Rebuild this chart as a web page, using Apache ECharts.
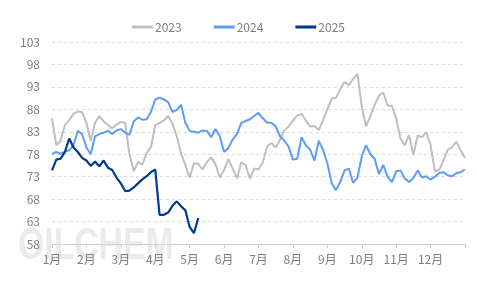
<!DOCTYPE html>
<html>
<head>
<meta charset="utf-8">
<script src="https://cdn.jsdelivr.net/npm/echarts@6/dist/echarts.min.js"></script>
<style>html,body{margin:0;padding:0;background:#fff;}#c{width:477px;height:284px;}</style>
</head>
<body>
<div id="c"></div>
<script>
const months = ['1月','2月','3月','4月','5月','6月','7月','8月','9月','10月','11月','12月'];
const seriesNames = ['2023','2024','2025'];
const stepPerMonth = 8;
const v2023 = [86.0,80.0,81.0,84.5,85.6,87.0,87.5,87.4,85.0,80.9,85.0,86.5,85.3,84.5,83.8,84.6,85.2,85.0,78.0,74.2,76.3,75.7,78.3,79.6,84.5,85.0,85.5,86.5,84.8,82.0,78.2,75.5,72.8,76.0,75.8,74.6,76.2,77.3,75.8,72.8,74.5,76.9,74.8,72.6,76.2,75.6,72.5,74.8,74.6,76.2,79.7,80.5,79.5,81.2,83.3,84.2,85.5,86.6,87.0,85.5,84.2,84.3,83.4,85.6,88.0,90.4,90.5,92.5,94.1,93.4,94.8,95.9,88.6,84.2,86.5,89.0,91.0,91.8,88.8,88.8,86.0,81.5,80.0,82.3,77.8,82.1,81.8,82.9,80.0,74.2,74.5,76.6,79.0,79.6,80.8,78.9,77.2];
const v2024 = [78.0,78.5,78.1,78.6,78.9,80.0,83.2,82.5,79.5,78.0,82.0,82.5,82.8,83.2,82.5,83.3,83.6,82.8,82.3,85.3,86.2,85.7,85.8,87.4,90.2,90.6,90.2,89.6,87.4,87.9,89.0,85.0,83.2,83.0,82.8,83.3,83.2,81.8,83.6,82.0,78.5,79.4,81.3,82.5,85.0,85.4,85.8,86.5,87.2,86.0,85.0,85.0,84.2,82.0,81.0,79.7,76.8,77.0,81.8,80.0,79.0,76.6,81.0,79.0,76.0,71.6,70.0,71.8,74.4,74.8,71.6,72.8,77.5,80.0,78.0,77.0,73.6,75.6,73.0,71.8,74.2,74.4,72.6,71.8,72.7,74.4,72.8,73.1,72.3,73.0,73.8,74.0,73.3,73.1,73.8,74.0,74.6];
const v2025 = [74.4,76.8,77.0,78.5,81.5,79.5,78.5,77.2,76.6,75.4,76.4,75.3,76.6,75.0,74.5,72.8,71.5,69.8,69.9,70.6,71.5,72.4,73.1,74.0,74.6,64.5,64.5,65.0,66.5,67.5,66.4,65.5,61.8,60.4,63.8];
const yTicks = {min:58, max:103, interval:5};
const colors = ['#BFBFBF','#5E9CF5','#003A8C'];

function toPoints(arr){ return arr.map((v,i)=>[i/stepPerMonth, v]); }

const chart = echarts.init(document.getElementById('c'), null, {renderer:'canvas'});
const font = '"Noto Sans CJK SC","Microsoft YaHei",sans-serif';
chart.setOption({
  animation:false,
  color:colors,
  graphic:[{
    type:'text', x:18, y:224, scaleX:0.75, z:-10, silent:true,
    style:{text:'OILCHEM', fontSize:45, fontWeight:'bold', fontFamily:'"Liberation Sans",Arial,sans-serif',
      verticalAlign:'top', fill:'rgba(215,215,215,0.5)'}
  }],
  legend:{
    top:16, left:'center', icon:'rect', itemWidth:21, itemHeight:3, itemGap:32,
    textStyle:{color:'#7F7F7F', fontSize:12, fontFamily:font, padding:[0,0,0,-3]},
    data:seriesNames
  },
  grid:{left:52, right:12, top:42, bottom:40, containLabel:false},
  xAxis:{
    type:'value', min:0, max:12, interval:1,
    axisLine:{lineStyle:{color:'#D0D0D0', width:1}},
    axisTick:{show:true, length:4, lineStyle:{color:'#D0D0D0'}},
    splitLine:{show:false},
    axisLabel:{color:'#7F7F7F', fontSize:12, fontFamily:font, margin:9,
      formatter:function(v){ return v<12 ? months[Math.round(v)] : ''; }}
  },
  yAxis:{
    type:'value', min:yTicks.min, max:yTicks.max, interval:yTicks.interval,
    axisLine:{show:false}, axisTick:{show:false},
    splitLine:{lineStyle:{color:'#DADADA', type:[3,3], width:1}},
    axisLabel:{color:'#7F7F7F', fontSize:12, fontFamily:font, margin:12}
  },
  series:[
    {name:seriesNames[0], type:'line', data:toPoints(v2023), showSymbol:false, lineStyle:{width:2}, z:1},
    {name:seriesNames[1], type:'line', data:toPoints(v2024), showSymbol:false, lineStyle:{width:2}, z:2},
    {name:seriesNames[2], type:'line', data:toPoints(v2025), showSymbol:false, lineStyle:{width:2.2}, z:3}
  ]
});
</script>
</body>
</html>
